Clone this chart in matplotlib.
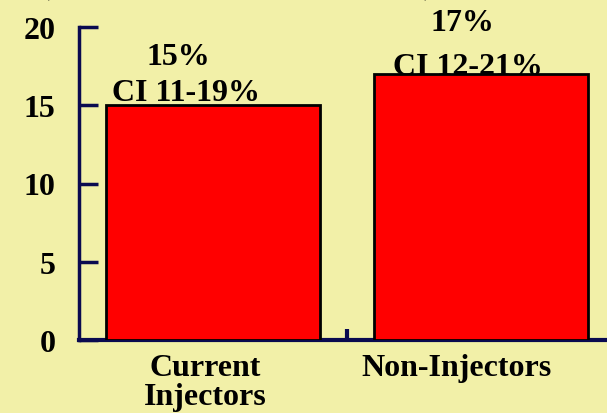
import matplotlib
matplotlib.use("Agg")
import matplotlib.pyplot as plt
import numpy as np

# data
categories = ["Current\nInjectors", "Non-Injectors"]
values = [15, 17]
pct_labels = ["15%", "17%"]
ci_labels = ["CI 11-19%", "CI 12-21%"]
yticks = [0, 5, 10, 15, 20]

bg = "#F2F0A8"
navy = "#0A0A50"
plt.rcParams['font.family'] = ['Liberation Serif', 'DejaVu Serif']
plt.rcParams['font.weight'] = 'bold'

fig = plt.figure(figsize=(6.07, 4.14), dpi=100, facecolor=bg)
ax = fig.add_axes([79/607, 73/414, 536/607, 313/414], facecolor=bg)

x = np.arange(len(categories))
ax.bar(x, values, width=0.8, color="#FF0000", edgecolor="black", linewidth=2, zorder=3)

ax.set_xlim(-0.5, 1.5)
ax.set_ylim(0, 20)
ax.set_yticks(yticks)
ax.set_yticklabels([str(t) for t in yticks], fontsize=23, fontweight='bold')
ax.tick_params(axis='y', direction='in', length=14, width=2.5, color=navy, pad=17)

# only the divider tick on the x axis
ax.set_xticks([0.5])
ax.set_xticklabels([""])
ax.tick_params(axis='x', direction='in', length=8, width=3, color=navy)

for s in ['top', 'right']:
    ax.spines[s].set_visible(False)
ax.spines['left'].set_color(navy)
ax.spines['left'].set_linewidth(2.5)
ax.spines['bottom'].set_color(navy)
ax.spines['bottom'].set_linewidth(3)

# labels above bars (drawn under the bars, like the original)
pct_dx = [-0.13, -0.07]
pct_dy = [3.1, 3.3]
ci_dx = [-0.10, -0.05]
ci_dy = [0.8, 0.5]
for i, v in enumerate(values):
    ax.text(x[i] + pct_dx[i], v + pct_dy[i], pct_labels[i], ha='center', va='center',
            fontsize=23, fontweight='bold', zorder=2, clip_on=False)
    ax.text(x[i] + ci_dx[i], v + ci_dy[i], ci_labels[i], ha='center', va='center',
            fontsize=23, fontweight='bold', zorder=2, clip_on=False)

# category labels
cat_dx = [-0.03, -0.09]
for i, c in enumerate(categories):
    ax.text(x[i] + cat_dx[i], -0.85, c, ha='center', va='top', fontsize=23,
            fontweight='bold', linespacing=0.98, clip_on=False)

# clipped title at top edge
fig.text(0.39, 1.035, "(                                                 )", ha='center', va='center',
         fontsize=22, fontweight='bold')

fig.savefig("out.png", dpi=100, facecolor=bg)
